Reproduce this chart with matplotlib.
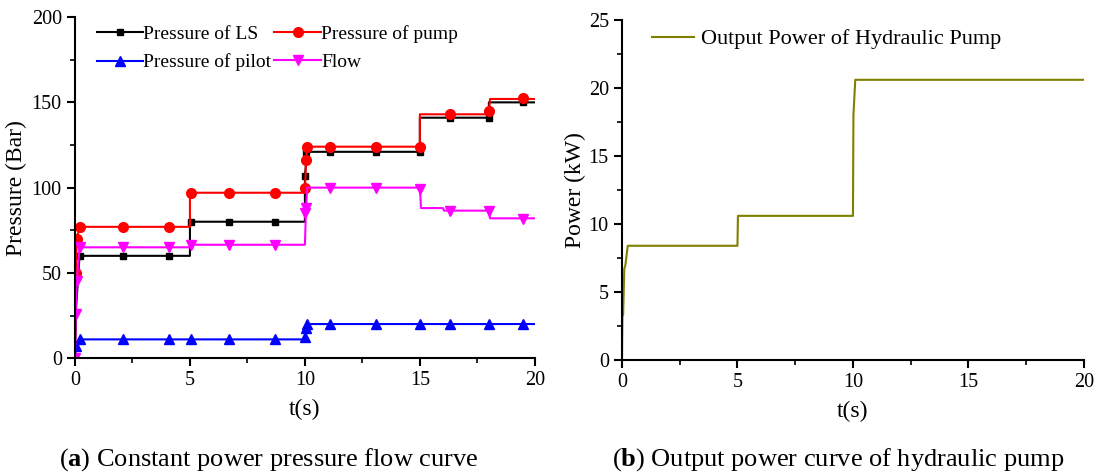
import matplotlib
matplotlib.use("Agg")
import matplotlib.pyplot as plt
from matplotlib.ticker import MultipleLocator

plt.rcParams['font.family'] = ['Liberation Serif', 'DejaVu Serif']
plt.rcParams['mathtext.fontset'] = 'custom'
plt.rcParams['mathtext.rm'] = 'Liberation Serif'
plt.rcParams['mathtext.bf'] = 'Liberation Serif:bold'

# --- left panel: step lines (vertices) ---
ls_t = [0, 0.05, 0.2, 5.0, 5.0, 10.0, 10.0, 10.1, 15.0, 15.0, 18.0, 18.0, 20]
ls_v = [0, 30, 60, 60, 80, 80, 107, 121, 121, 141, 141, 150, 150]
ls_mt = [0.2, 2.1, 4.1, 5.05, 6.7, 8.7, 10.0, 10.05, 11.1, 13.1, 15.0, 16.3, 18.0, 19.5]
ls_mv = [60, 60, 60, 80, 80, 80, 107, 121, 121, 121, 121, 141, 141, 150]

pump_t = [0, 0.03, 0.08, 0.2, 5.0, 5.0, 10.0, 10.05, 10.1, 15.0, 15.0, 18.0, 18.05, 20]
pump_v = [0, 50, 70, 77, 77, 97, 97, 116, 124, 124, 143, 143, 152, 152]
pump_mt = [0.03, 0.08, 0.2, 2.1, 4.1, 5.05, 6.7, 8.7, 10.0, 10.05, 10.1, 11.1, 13.1, 15.0, 16.3, 18.0, 19.5]
pump_mv = [50, 70, 77, 77, 77, 97, 97, 97, 100, 116, 124, 124, 124, 124, 143, 145, 152.5]

pilot_t = [0, 0.05, 0.2, 10.0, 10.05, 10.1, 20]
pilot_v = [0, 7, 11, 11, 17, 20, 20]
pilot_mt = [0.05, 0.2, 2.1, 4.1, 5.05, 6.7, 8.7, 10.0, 10.05, 10.1, 11.1, 13.1, 15.0, 16.3, 18.0, 19.5]
pilot_mv = [7, 11, 11, 11, 11, 11, 11, 12.5, 17.5, 20, 20, 20, 20, 20, 20, 20]

flow_t = [0, 0.03, 0.08, 0.2, 5.0, 5.0, 10.0, 10.05, 10.1, 15.0, 15.05, 16.0, 16.05, 18.0, 18.05, 20]
flow_v = [0, 26, 45, 65, 65, 66.5, 66.5, 88, 100, 100, 88, 88, 86.5, 86.5, 82, 82]
flow_mt = [0.0, 0.03, 0.08, 0.2, 2.1, 4.1, 5.05, 6.7, 8.7, 10.0, 10.05, 11.1, 13.1, 15.0, 16.3, 18.0, 19.5]
flow_mv = [0, 26, 45, 65, 65, 65, 66.5, 66.5, 66.5, 85, 88, 100, 100, 99, 86.5, 86, 81.5]

# --- right panel ---
pow_t = [0, 0.02, 0.05, 0.1, 0.15, 0.25, 5.0, 5.02, 10.0, 10.02, 10.1, 20]
pow_v = [0, 3.3, 3.3, 6.7, 7.0, 8.4, 8.4, 10.6, 10.6, 18.0, 20.6, 20.6]

fig = plt.figure(figsize=(10.96, 4.75), dpi=100)
ax1 = fig.add_axes([0.0684, 0.246, 0.4196, 0.718])
ax2 = fig.add_axes([0.5675, 0.242, 0.4215, 0.716])

series = [
    (ls_t, ls_v, ls_mt, ls_mv, 'black', 's', 'Pressure of LS', 5),
    (pilot_t, pilot_v, pilot_mt, pilot_mv, 'blue', '^', 'Pressure of pilot', 7),
    (pump_t, pump_v, pump_mt, pump_mv, 'red', 'o', 'Pressure of pump', 7),
    (flow_t, flow_v, flow_mt, flow_mv, 'magenta', 'v', 'Flow', 7),
]
handles = []
for t, v, mt, mv, c, m, lab, ms in series:
    ax1.plot(t, v, color=c, lw=1.5)
    ax1.plot(mt, mv, ls='none', marker=m, color=c, ms=ms)
    h, = ax1.plot([], [], color=c, lw=1.5, marker=m, ms=ms, label=lab)
    handles.append(h)

ax1.set_xlim(0, 20)
ax1.set_ylim(0, 200)
ax1.set_xlabel('t(s)', fontsize=17, labelpad=6)
ax1.set_ylabel('Pressure (Bar)', fontsize=17, labelpad=3)
ax1.legend(handles=handles, ncol=2, loc='upper left', frameon=False, fontsize=14,
           handlelength=2.4, handletextpad=0.0, columnspacing=0.15,
           borderaxespad=0.0, labelspacing=0.55, bbox_to_anchor=(0.03, 1.0))
ax1.xaxis.set_major_locator(MultipleLocator(5))
ax1.xaxis.set_minor_locator(MultipleLocator(2.5))
ax1.yaxis.set_major_locator(MultipleLocator(50))
ax1.yaxis.set_minor_locator(MultipleLocator(25))

ax2.plot(pow_t, pow_v, color='#808000', lw=1.5, label='Output Power of Hydraulic Pump')
ax2.set_xlim(0, 20)
ax2.set_ylim(0, 25)
ax2.set_xlabel('t(s)', fontsize=17, labelpad=6)
ax2.set_ylabel('Power (kW)', fontsize=17, labelpad=2)
ax2.legend(loc='upper left', frameon=False, fontsize=16, handlelength=1.9,
           handletextpad=0.3, borderaxespad=0.0, bbox_to_anchor=(0.045, 1.0))
ax2.xaxis.set_major_locator(MultipleLocator(5))
ax2.xaxis.set_minor_locator(MultipleLocator(2.5))
ax2.yaxis.set_major_locator(MultipleLocator(5))
ax2.yaxis.set_minor_locator(MultipleLocator(2.5))

for ax in (ax1, ax2):
    ax.spines['top'].set_visible(False)
    ax.spines['right'].set_visible(False)
    ax.spines['left'].set_linewidth(1.5)
    ax.spines['bottom'].set_linewidth(1.5)
    ax.tick_params(which='major', direction='out', length=6, width=1.5, labelsize=14.5)
    ax.tick_params(which='minor', direction='out', length=3.5, width=1.2)

fig.text(0.245, 0.02, r'($\mathbf{a}$) Constant power pressure flow curve', ha='center', fontsize=19)
fig.text(0.765, 0.02, r'($\mathbf{b}$) Output power curve of hydraulic pump', ha='center', fontsize=19)

fig.savefig('out.png', dpi=100)
